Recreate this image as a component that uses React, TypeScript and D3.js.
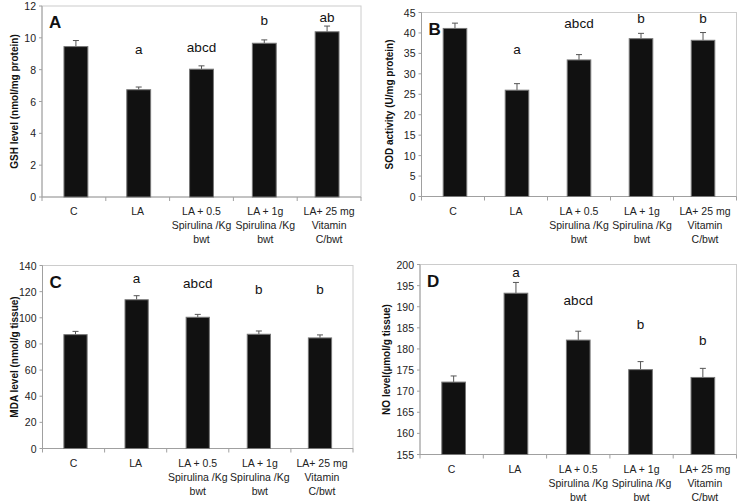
import React from "react";
import * as d3 from "d3";

const categories: string[][] = [
  ["C"],
  ["LA"],
  ["LA + 0.5", "Spirulina /Kg", "bwt"],
  ["LA + 1g", "Spirulina /Kg", "bwt"],
  ["LA+ 25 mg", "Vitamin", "C/bwt"],
];

const gshValues = [9.45, 6.74, 8.03, 9.66, 10.38];
const gshErrors = [0.38, 0.17, 0.21, 0.21, 0.36];
const gshLetters = ["", "a", "abcd", "b", "ab"];
const gshLetterY = [0, 9.25, 9.4, 11.1, 11.3];
const gshTicks = [0, 2, 4, 6, 8, 10, 12];

const sodValues = [41.1, 26.0, 33.4, 38.6, 38.2];
const sodErrors = [1.3, 1.6, 1.3, 1.3, 1.9];
const sodLetters = ["", "a", "abcd", "b", "b"];
const sodLetterY = [0, 36, 42.3, 43.6, 43.6];
const sodTicks = [0, 5, 10, 15, 20, 25, 30, 35, 40, 45];

const mdaValues = [87.1, 113.8, 100.4, 87.4, 84.6];
const mdaErrors = [2.5, 3.1, 2.2, 2.5, 2.3];
const mdaLetters = ["", "a", "abcd", "b", "b"];
const mdaLetterY = [0, 130.3, 126.5, 122, 122];
const mdaTicks = [0, 20, 40, 60, 80, 100, 120, 140];

const noValues = [172.15, 193.2, 182.1, 175.1, 173.25];
const noErrors = [1.45, 2.55, 2.1, 1.9, 2.15];
const noLetters = ["", "a", "abcd", "b", "b"];
const noLetterY = [0, 198, 191.4, 185.7, 182];
const noTicks = [155, 160, 165, 170, 175, 180, 185, 190, 195, 200];

type PanelProps = {
  left: number;
  top: number;
  right: number;
  bottom: number;
  values: number[];
  errors: number[];
  letters: string[];
  letterY: number[];
  ticks: number[];
  yTitle: string;
  panel: string;
  titleX: number;
};

const FONT = "'Liberation Sans', Arial, sans-serif";

function Panel(p: PanelProps) {
  const x = d3
    .scaleBand<number>()
    .domain(d3.range(categories.length))
    .range([p.left, p.right])
    .paddingInner(0.62)
    .paddingOuter(0.35);
  const y = d3
    .scaleLinear()
    .domain([p.ticks[0], p.ticks[p.ticks.length - 1]])
    .range([p.bottom, p.top]);
  const step = (p.right - p.left) / categories.length;
  const midY = (p.top + p.bottom) / 2;
  return (
    <g>
      <rect
        x={p.left}
        y={p.top}
        width={p.right - p.left}
        height={p.bottom - p.top}
        fill="none"
        stroke="#cccccc"
        strokeWidth={1}
      />
      <line x1={p.left} x2={p.left} y1={p.top} y2={p.bottom} stroke="#a0a0a0" />
      <line x1={p.left} x2={p.right} y1={p.bottom} y2={p.bottom} stroke="#a0a0a0" />
      {p.ticks.map((t) => (
        <g key={t}>
          <line x1={p.left - 3} x2={p.left} y1={y(t)} y2={y(t)} stroke="#a0a0a0" />
          <text
            x={p.left - 6}
            y={y(t)}
            textAnchor="end"
            dominantBaseline="central"
            fontSize={10.5}
            fontFamily={FONT}
            fill="#222"
          >
            {t}
          </text>
        </g>
      ))}
      {d3.range(categories.length + 1).map((i) => (
        <line
          key={i}
          x1={p.left + i * step}
          x2={p.left + i * step}
          y1={p.bottom}
          y2={p.bottom + 4}
          stroke="#a0a0a0"
        />
      ))}
      {p.values.map((v, i) => {
        const bx = x(i)!;
        const cx = bx + x.bandwidth() / 2;
        const top = y(v);
        const et = y(v + p.errors[i]);
        return (
          <g key={i}>
            <line x1={cx} x2={cx} y1={top} y2={et} stroke="#555" strokeWidth={1} />
            <line x1={cx - 3} x2={cx + 3} y1={et} y2={et} stroke="#555" strokeWidth={1} />
            <rect
              x={bx}
              y={top}
              width={x.bandwidth()}
              height={p.bottom - top}
              fill="#111"
              stroke="#777"
              strokeWidth={1}
            />
            {p.letters[i] && (
              <text
                x={cx}
                y={y(p.letterY[i])}
                textAnchor="middle"
                dominantBaseline="central"
                fontSize={13.5}
                fontFamily={FONT}
                fill="#111"
              >
                {p.letters[i]}
              </text>
            )}
          </g>
        );
      })}
      {categories.map((lines, i) => (
        <text
          key={i}
          textAnchor="middle"
          fontSize={10.5}
          fontFamily={FONT}
          fill="#222"
        >
          {lines.map((ln, j) => (
            <tspan
              key={j}
              x={p.left + (i + 0.5) * step}
              y={p.bottom + 18 + j * 14}
            >
              {ln}
            </tspan>
          ))}
        </text>
      ))}
      <text
        transform={`translate(${p.titleX},${midY}) rotate(-90)`}
        textAnchor="middle"
        dominantBaseline="central"
        fontSize={10}
        fontWeight="bold"
        fontFamily={FONT}
        fill="#111"
      >
        {p.yTitle}
      </text>
      <text
        x={p.left + 7}
        y={p.top + 22}
        fontSize={17}
        fontWeight="bold"
        fontFamily={FONT}
        fill="#111"
      >
        {p.panel}
      </text>
    </g>
  );
}

export default function App() {
  return (
    <svg
      width={738}
      height={503}
      style={{ position: "absolute", left: 0, top: 0, background: "#fff" }}
    >
      <rect width={738} height={503} fill="#fff" />
      <Panel
        left={42}
        top={6}
        right={361}
        bottom={197}
        values={gshValues}
        errors={gshErrors}
        letters={gshLetters}
        letterY={gshLetterY}
        ticks={gshTicks}
        yTitle="GSH level (nmol/mg protein)"
        panel="A"
        titleX={14}
      />
      <Panel
        left={421.5}
        top={12.5}
        right={736.5}
        bottom={196.5}
        values={sodValues}
        errors={sodErrors}
        letters={sodLetters}
        letterY={sodLetterY}
        ticks={sodTicks}
        yTitle="SOD activity (U/mg protein)"
        panel="B"
        titleX={389}
      />
      <Panel
        left={42.5}
        top={265.5}
        right={353}
        bottom={448.5}
        values={mdaValues}
        errors={mdaErrors}
        letters={mdaLetters}
        letterY={mdaLetterY}
        ticks={mdaTicks}
        yTitle="MDA level (nmol/g tissue)"
        panel="C"
        titleX={14}
      />
      <Panel
        left={420}
        top={264.5}
        right={736.5}
        bottom={454.5}
        values={noValues}
        errors={noErrors}
        letters={noLetters}
        letterY={noLetterY}
        ticks={noTicks}
        yTitle="NO level(µmol/g tissue)"
        panel="D"
        titleX={386}
      />
    </svg>
  );
}
